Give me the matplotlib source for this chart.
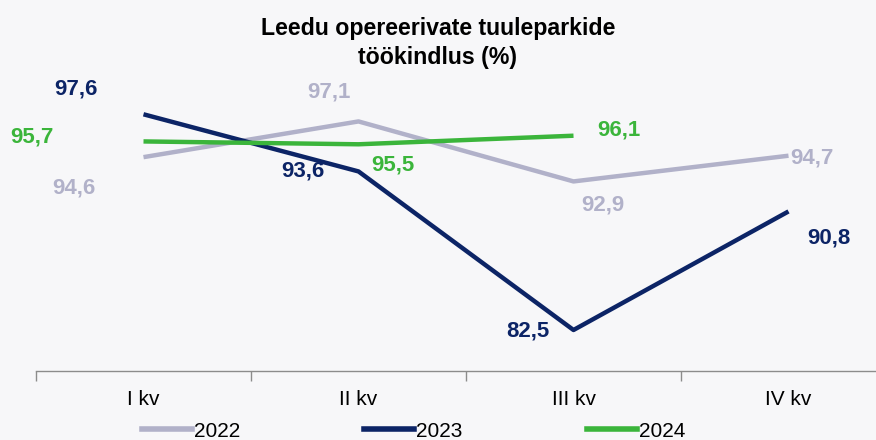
import matplotlib.pyplot as plt
from matplotlib.lines import Line2D

# data
quarters = ["I kv", "II kv", "III kv", "IV kv"]
y2022 = [94.6, 97.1, 92.9, 94.7]
y2023 = [97.6, 93.6, 82.5, 90.8]
y2024 = [95.7, 95.5, 96.1]

c2022 = "#B1B1C9"
c2023 = "#0C2466"
c2024 = "#3BB53B"
bg = "#F7F7F9"

plt.rcParams["font.family"] = ["Liberation Sans", "DejaVu Sans"]

fig = plt.figure(figsize=(8.76, 4.4), dpi=100, facecolor=bg)
ax = fig.add_axes([36 / 876, (440 - 371) / 440, 860 / 876, (371 - 80) / 440])
ax.set_facecolor(bg)

x = range(len(quarters))
ax.plot(x, y2022, color=c2022, lw=3.2, solid_capstyle="butt")
ax.plot(x, y2023, color=c2023, lw=3.2, solid_capstyle="butt")
ax.plot(range(len(y2024)), y2024, color=c2024, lw=3.2, solid_capstyle="butt")

ax.set_xlim(-0.5, 3.5)
ax.set_ylim(79.63, 100)

# data labels: (dx, dy) offsets in points
lab = dict(fontsize=16, fontweight="bold", ha="center", va="center")
off2022 = [(-50, -22), (-21, 21), (21, -17), (17, -2)]
off2023 = [(-49, 18), (-40, 0), (-33, -1), (29, -19)]
off2024 = [(-80, 3), (25, -15), (33, 4)]
for i, v in enumerate(y2022):
    ax.annotate(f"{v:.1f}".replace(".", ","), (i, v), xytext=off2022[i],
                textcoords="offset points", color=c2022, **lab)
for i, v in enumerate(y2023):
    ax.annotate(f"{v:.1f}".replace(".", ","), (i, v), xytext=off2023[i],
                textcoords="offset points", color=c2023, **lab)
for i, v in enumerate(y2024):
    ax.annotate(f"{v:.1f}".replace(".", ","), (i, v), xytext=off2024[i],
                textcoords="offset points", color=c2024, **lab)

# axis styling
for s in ["top", "right", "left"]:
    ax.spines[s].set_visible(False)
ax.spines["bottom"].set_color("#8C8C8C")
ax.spines["bottom"].set_linewidth(1)
ax.set_yticks([])
ax.set_xticks([-0.5, 0.5, 1.5, 2.5, 3.5], minor=False)
ax.set_xticklabels([])
ax.tick_params(axis="x", length=7, color="#8C8C8C", width=1)
ax.set_xticks(list(x), minor=True)
ax.set_xticklabels(quarters, minor=True, fontsize=15)
ax.tick_params(axis="x", which="minor", length=0, pad=14)

fig.text(0.5, 0.903, "Leedu opereerivate tuuleparkide\ntöökindlus (%)", ha="center",
         va="center", fontsize=16.7, fontweight="bold", linespacing=1.35)

handles = [Line2D([], [], color=c, lw=4) for c in (c2022, c2023, c2024)]
fig.legend(handles, ["2022", "2023", "2024"], loc="center", bbox_to_anchor=(0.472, 0.02),
           ncol=3, frameon=False, handlelength=2.4, handletextpad=0.1, columnspacing=5.95,
           prop={"size": 15})

fig.savefig("out.png", dpi=100, facecolor=bg)
